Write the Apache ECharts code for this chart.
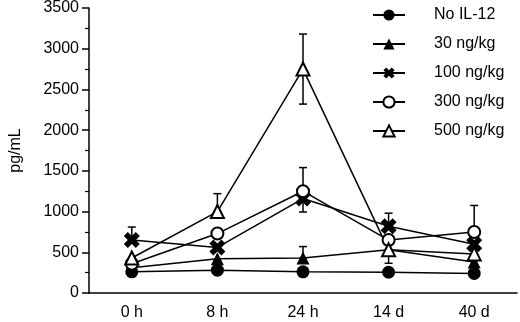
<!DOCTYPE html>
<html>
<head>
<meta charset="utf-8">
<script src="https://cdn.jsdelivr.net/npm/echarts@6/dist/echarts.min.js"></script>
<style>
  html, body { margin: 0; padding: 0; background: #fff; }
  #chart { width: 520px; height: 322px; }
</style>
</head>
<body>
<div id="chart"></div>
<script>
const categories = ['0 h', '8 h', '24 h', '14 d', '40 d']
const yTicks = [0, 500, 1000, 1500, 2000, 2500, 3000, 3500]

// mean values, pg/mL
const noIL12 = [260, 280, 260, 255, 240]
const ng30 = [310, 420, 430, 530, 380]
const ng100 = [650, 560, 1160, 820, 600]
const ng300 = [360, 730, 1250, 650, 750]
const ng500 = [430, 1000, 2750, 530, 480]

// error bars (upper / lower extent), 0 = not drawn
const ng30ErrUp = [0, 0, 140, 0, 0]
const ng30ErrDown = [0, 0, 0, 0, 0]
const ng100ErrUp = [160, 0, 0, 160, 0]
const ng100ErrDown = [0, 0, 165, 0, 0]
const ng300ErrUp = [0, 0, 290, 0, 325]
const ng300ErrDown = [0, 0, 0, 0, 0]
const ng500ErrUp = [0, 220, 430, 0, 0]
const ng500ErrDown = [0, 0, 430, 165, 0]

const font = 'Liberation Sans, Arial, Helvetica, sans-serif'
const crossPath = 'path://M0,2.5 L2.5,0 L5,2.5 L7.5,0 L10,2.5 L7.5,5 L10,7.5 L7.5,10 L5,7.5 L2.5,10 L0,7.5 L2.5,5 Z'

const errData = (vals, up, down) => {
  const out = []
  vals.forEach((v, i) => {
    if (up[i] || down[i]) out.push([i, v, v + up[i], v - down[i]])
  })
  return out
}

const allErr = []
  .concat(errData(ng30, ng30ErrUp, ng30ErrDown))
  .concat(errData(ng100, ng100ErrUp, ng100ErrDown))
  .concat(errData(ng300, ng300ErrUp, ng300ErrDown))
  .concat(errData(ng500, ng500ErrUp, ng500ErrDown))

const lineSeries = (name, data, symbol, size, empty) => ({
  name,
  type: 'line',
  data,
  symbol,
  symbolSize: size,
  showAllSymbol: true,
  lineStyle: { color: '#000', width: 1.5 },
  itemStyle: empty
    ? { color: '#000', borderColor: '#000', borderWidth: 1.5 }
    : { color: '#000', borderColor: '#000', borderWidth: 0 },
  z: 3,
})

const chart = echarts.init(document.getElementById('chart'))
chart.setOption({
  animation: false,
  backgroundColor: '#fff',
  textStyle: { fontFamily: font, color: '#000' },
  grid: { left: 87, right: 3, top: 7, bottom: 29, containLabel: false },
  legend: {
    orient: 'vertical',
    left: 372,
    top: 7,
    padding: 0,
    itemWidth: 32,
    itemHeight: 14,
    itemGap: 13,
    textStyle: { fontSize: 16, color: '#000', fontFamily: font, padding: [0, 0, 0, 24] },
    data: ['No IL-12', '30 ng/kg', '100 ng/kg', '300 ng/kg', '500 ng/kg'],
  },
  xAxis: {
    type: 'category',
    data: categories,
    boundaryGap: true,
    axisLine: { lineStyle: { color: '#000', width: 1.5 } },
    axisTick: { alignWithLabel: true, length: 5, lineStyle: { color: '#000', width: 1.5 } },
    axisLabel: { color: '#000', fontSize: 16, margin: 12, fontFamily: font },
    splitLine: { show: false },
  },
  yAxis: {
    type: 'value',
    min: yTicks[0],
    max: yTicks[yTicks.length - 1],
    interval: 500,
    name: 'pg/mL',
    nameLocation: 'middle',
    nameRotate: 90,
    nameGap: 65,
    nameTextStyle: { fontSize: 16, color: '#000', fontFamily: font },
    axisLine: { show: true, lineStyle: { color: '#000', width: 1.5 } },
    axisTick: { show: true, length: 7, lineStyle: { color: '#000', width: 1.5 } },
    minorTick: { show: true, splitNumber: 2, length: 4, lineStyle: { color: '#000', width: 1.2 } },
    axisLabel: { color: '#000', fontSize: 16, margin: 10, fontFamily: font, formatter: (v) => String(v) },
    splitLine: { show: false },
  },
  series: [
    {
      type: 'custom',
      name: 'err',
      data: allErr,
      z: 2,
      encode: { x: 0, y: [1, 2, 3] },
      renderItem(params, api) {
        const x = api.value(0)
        const hi = api.coord([x, api.value(2)])
        const lo = api.coord([x, api.value(3)])
        const w = 4
        const style = { stroke: '#000', lineWidth: 1.5 }
        return {
          type: 'group',
          children: [
            { type: 'line', shape: { x1: hi[0], y1: hi[1], x2: lo[0], y2: lo[1] }, style },
            { type: 'line', shape: { x1: hi[0] - w, y1: hi[1], x2: hi[0] + w, y2: hi[1] }, style },
            { type: 'line', shape: { x1: lo[0] - w, y1: lo[1], x2: lo[0] + w, y2: lo[1] }, style },
          ],
        }
      },
    },
    lineSeries('No IL-12', noIL12, 'circle', 13, false),
    lineSeries('30 ng/kg', ng30, 'triangle', 13, false),
    lineSeries('100 ng/kg', ng100, crossPath, 16, false),
    lineSeries('300 ng/kg', ng300, 'emptyCircle', 12, true),
    lineSeries('500 ng/kg', ng500, 'emptyTriangle', 13, true),
  ],
})
</script>
</body>
</html>
